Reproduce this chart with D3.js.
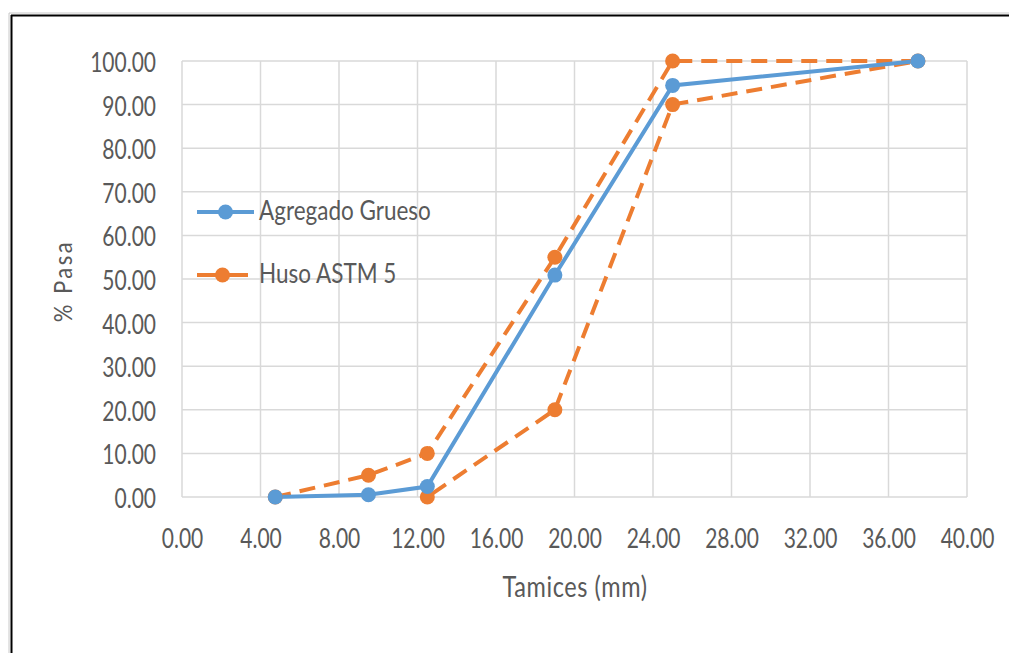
<!DOCTYPE html>
<html>
<head>
<meta charset="utf-8">
<script src="https://cdn.jsdelivr.net/npm/d3@7"></script>
<style>
  body { margin: 0; background: #fff; }
  text { font-family: Lato, "Open Sans", sans-serif; fill: #595959; }
</style>
</head>
<body>
<div id="chart"></div>
<script>
// sieve sizes (mm) and % passing
var gruesoX = [4.75, 9.5, 12.5, 19.0, 25.0, 37.5];
var gruesoY = [0.0, 0.5, 2.4, 50.9, 94.4, 100.0];

// ASTM 5 band drawn as one polyline: upper limit, then back along lower limit
var husoX = [4.75, 9.5, 12.5, 19.0, 25.0, 37.5, 25.0, 19.0, 12.5];
var husoY = [0, 5, 10, 55, 100, 100, 90, 20, 0];

var xTicks = [0, 4, 8, 12, 16, 20, 24, 28, 32, 36, 40];
var yTicks = [0, 10, 20, 30, 40, 50, 60, 70, 80, 90, 100];

var seriesNames = ["Agregado Grueso", "Huso ASTM 5"];
var blue = "#5b9bd5", orange = "#ed7d31";

var W = 1009, H = 653;
var margin = { top: 61, right: 42, bottom: 156, left: 182 },
    w = W - margin.left - margin.right,
    h = H - margin.top - margin.bottom;

// the original text is tall and narrow, so stretch it a bit vertically
function tall(x0, base, k) {
    return "translate(" + x0 + "," + base + ") scale(1," + k + ")";
}

var svg = d3.select("#chart").append("svg")
    .attr("width", W).attr("height", H);

// outer frame (only top and left edges are visible in the picture)
svg.append("line").attr("x1", 9).attr("x2", W).attr("y1", 13).attr("y2", 13)
    .attr("stroke", "#c8c8c8").attr("stroke-width", 1);
svg.append("line").attr("x1", 11).attr("x2", W).attr("y1", 15.5).attr("y2", 15.5)
    .attr("stroke", "#000").attr("stroke-width", 2);
svg.append("line").attr("x1", 9).attr("x2", 9).attr("y1", 13).attr("y2", H)
    .attr("stroke", "#c8c8c8").attr("stroke-width", 1);
svg.append("line").attr("x1", 11.5).attr("x2", 11.5).attr("y1", 15).attr("y2", H)
    .attr("stroke", "#000").attr("stroke-width", 2);

var g = svg.append("g")
    .attr("transform", "translate(" + margin.left + "," + margin.top + ")");

var x = d3.scaleLinear().domain([0, 40]).range([0, w]);
var y = d3.scaleLinear().domain([0, 100]).range([h, 0]);

// grid
g.selectAll(".vgrid").data(xTicks).enter().append("line")
    .attr("x1", d => x(d)).attr("x2", d => x(d))
    .attr("y1", 0).attr("y2", h)
    .attr("stroke", "#d9d9d9").attr("stroke-width", 1.5);
g.selectAll(".hgrid").data(yTicks).enter().append("line")
    .attr("x1", 0).attr("x2", w)
    .attr("y1", d => y(d)).attr("y2", d => y(d))
    .attr("stroke", "#d9d9d9").attr("stroke-width", 1.5);

// axes (labels only)
var xAxis = d3.axisBottom(x).tickValues(xTicks).tickFormat(d3.format(".2f")).tickSize(0);
var yAxis = d3.axisLeft(y).tickValues(yTicks).tickFormat(d3.format(".2f")).tickSize(0);

g.append("g").attr("transform", "translate(0," + h + ")").call(xAxis)
    .call(a => a.select(".domain").remove())
    .selectAll("text")
    .attr("y", 0).attr("dy", 0)
    .attr("transform", tall(0, 51, 1.3))
    .style("font-size", "21px").attr("fill", "#595959")
    .style("font-family", "Lato, 'Open Sans', sans-serif");
g.append("g").call(yAxis)
    .call(a => a.select(".domain").remove())
    .selectAll("text")
    .attr("x", 0).attr("dy", 0).attr("y", 0)
    .attr("transform", tall(-26, 10.5, 1.3))
    .style("font-size", "21px").attr("fill", "#595959")
    .style("font-family", "Lato, 'Open Sans', sans-serif");

// axis titles
svg.append("text")
    .attr("transform", tall(575, 597, 1.2))
    .attr("text-anchor", "middle")
    .style("font-size", "23.5px")
    .style("letter-spacing", "0.6px")
    .text("Tamices (mm)");
svg.append("text")
    .attr("transform", "translate(72,281) rotate(-90) scale(1,1.15)")
    .attr("text-anchor", "middle")
    .style("font-size", "22px")
    .style("letter-spacing", "2.5px")
    .text("% Pasa");

var line = d3.line().x(d => x(d[0])).y(d => y(d[1]));
var grueso = d3.zip(gruesoX, gruesoY);
var huso = d3.zip(husoX, husoY);

g.append("path").datum(huso)
    .attr("d", line).attr("fill", "none")
    .attr("stroke", orange).attr("stroke-width", 4)
    .attr("stroke-dasharray", "16,9");
g.append("path").datum(grueso)
    .attr("d", line).attr("fill", "none")
    .attr("stroke", blue).attr("stroke-width", 4);

g.selectAll(".mh").data(huso).enter().append("circle")
    .attr("cx", d => x(d[0])).attr("cy", d => y(d[1])).attr("r", 7.5)
    .attr("fill", orange);
g.selectAll(".mg").data(grueso).enter().append("circle")
    .attr("cx", d => x(d[0])).attr("cy", d => y(d[1])).attr("r", 7.5)
    .attr("fill", blue);

// legend
var legY = [212, 275], legColors = [blue, orange], legEnd = [254, 248];
for (let i = 0; i < seriesNames.length; i++) {
    svg.append("line").attr("x1", 197).attr("x2", legEnd[i])
        .attr("y1", legY[i]).attr("y2", legY[i])
        .attr("stroke", legColors[i]).attr("stroke-width", 4);
    svg.append("circle").attr("cx", (197 + legEnd[i]) / 2).attr("cy", legY[i]).attr("r", 7.5)
        .attr("fill", legColors[i]);
    svg.append("text").attr("transform", tall(259, legY[i] + 8, 1.2))
        .style("font-size", "22.5px").text(seriesNames[i]);
}
</script>
</body>
</html>
